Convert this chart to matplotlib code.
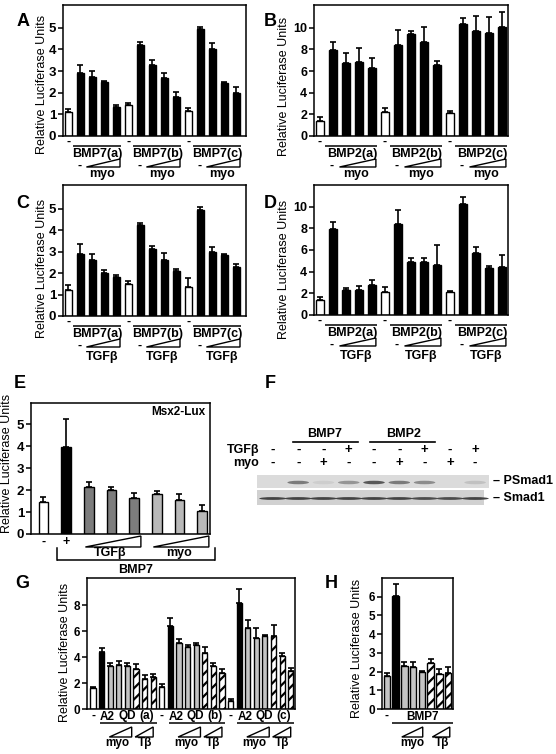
import matplotlib
matplotlib.use("Agg")
import matplotlib.pyplot as plt
from matplotlib.patches import Polygon, Rectangle, Ellipse

plt.rcParams['font.family'] = ['Liberation Sans', 'DejaVu Sans']
plt.rcParams['font.weight'] = 'bold'
plt.rcParams['hatch.linewidth'] = 1.6

# ---- data ----
a_vals = [1.12, 2.92, 2.71, 2.48, 1.35, 1.42, 4.22, 3.28, 2.69, 1.82, 1.15, 4.92, 4.0, 2.46, 2.0]
a_errs = [0.12, 0.35, 0.3, 0.07, 0.1, 0.12, 0.1, 0.25, 0.2, 0.22, 0.15, 0.1, 0.28, 0.04, 0.26]
b_vals = [1.42, 7.94, 6.7, 6.86, 6.3, 2.25, 8.4, 9.38, 8.7, 6.55, 2.15, 10.34, 9.7, 9.48, 10.03]
b_errs = [0.3, 0.77, 1.0, 1.23, 0.95, 0.37, 1.38, 0.3, 1.38, 0.37, 0.15, 0.58, 1.4, 1.47, 1.45]
c_vals = [1.21, 2.91, 2.63, 2.01, 1.8, 1.47, 4.26, 3.14, 2.63, 2.09, 1.36, 4.92, 2.99, 2.83, 2.26]
c_errs = [0.23, 0.43, 0.25, 0.12, 0.1, 0.17, 0.09, 0.12, 0.31, 0.09, 0.39, 0.15, 0.2, 0.08, 0.15]
d_vals = [1.42, 7.9, 2.35, 2.28, 2.81, 2.1, 8.36, 4.88, 4.88, 4.66, 2.1, 10.28, 5.74, 4.35, 4.41]
d_errs = [0.25, 0.7, 0.15, 0.37, 0.4, 0.46, 1.33, 0.34, 0.34, 1.76, 0.09, 0.62, 0.56, 0.15, 1.17]
group_names_bmp7 = ['BMP7(a)', 'BMP7(b)', 'BMP7(c)']
group_names_bmp2 = ['BMP2(a)', 'BMP2(b)', 'BMP2(c)']

e_vals = [1.44, 3.95, 2.13, 1.99, 1.63, 1.82, 1.55, 1.05]
e_errs = [0.23, 1.28, 0.26, 0.14, 0.26, 0.14, 0.27, 0.27]

blot_lanes = range(9)
blot_tgfb = ['-', '-', '-', '+', '-', '-', '+', '-', '+']
blot_myo = ['-', '-', '+', '-', '-', '+', '-', '+', '-']
psmad1_int = [0.0, 0.55, 0.08, 0.4, 0.75, 0.55, 0.45, 0.0, 0.15]
smad1_int = [0.8, 0.8, 0.8, 0.8, 0.8, 0.8, 0.75, 0.75, 0.8]

g_vals = [1.61, 4.35, 3.32, 3.4, 3.32, 3.07, 2.3, 2.43,
          1.69, 6.4, 5.05, 4.8, 4.9, 4.3, 3.32, 2.75,
          0.59, 8.13, 6.2, 5.44, 5.62, 5.62, 4.08, 2.9]
g_errs = [0.05, 0.36, 0.2, 0.3, 0.2, 0.38, 0.33, 0.26,
          0.26, 0.6, 0.33, 0.13, 0.18, 0.45, 0.2, 0.36,
          0.18, 1.08, 0.64, 0.82, 0.05, 0.87, 0.26, 0.27]
g_groups = ['(a)', '(b)', '(c)']

h_vals = [1.74, 6.04, 2.31, 2.27, 2.0, 2.45, 1.88, 1.92]
h_errs = [0.21, 0.62, 0.2, 0.23, 0.05, 0.21, 0.27, 0.35]

W, H = 556, 754
fig = plt.figure(figsize=(W / 100, H / 100), dpi=100)


def panel(l, t, r, b):
    return fig.add_axes([l / W, 1 - b / H, (r - l) / W, (b - t) / H])


def bars(ax, vals, errs, colors, width, hatched=(), cap=2.5):
    x = list(range(len(vals)))
    rects = ax.bar(x, vals, width=width, color=colors, edgecolor='black', linewidth=1, zorder=2)
    for i in hatched:
        rects[i].set_hatch('///')
    ax.errorbar(x, vals, yerr=[[0] * len(vals), errs], fmt='none', ecolor='black',
                elinewidth=1.2, capsize=cap, capthick=1.2, zorder=1)


def style(ax, xlim, ylim, yticks, fs=9.5, lab_x=-0.1, lab_y=0.5, lab_fs=9):
    ax.set_xlim(xlim)
    ax.set_ylim(ylim)
    ax.set_yticks(yticks)
    ax.set_xticks([])
    ax.tick_params(axis='y', length=3.5, width=1.1, pad=1.5, labelsize=fs)
    for s in ax.spines.values():
        s.set_linewidth(1.1)
    ax.set_ylabel('Relative Luciferase Units', fontsize=lab_fs)
    ax.yaxis.set_label_coords(lab_x, lab_y)
    ax.yaxis.label.set_verticalalignment('center')


def txt(ax, x, dy, s, fs=9, ha='center', va='center'):
    ax.text(x, -dy / ax.bbox.height, s, transform=ax.get_xaxis_transform(),
            ha=ha, va=va, fontsize=fs, clip_on=False)


def hline(ax, x0, x1, dy, lw=1.1):
    y = -dy / ax.bbox.height
    ax.plot([x0, x1], [y, y], transform=ax.get_xaxis_transform(), color='black',
            lw=lw, clip_on=False, solid_capstyle='butt')


def vline(ax, x, dy0, dy1, lw=1.1):
    h = ax.bbox.height
    ax.plot([x, x], [-dy0 / h, -dy1 / h], transform=ax.get_xaxis_transform(), color='black',
            lw=lw, clip_on=False)


def wedge(ax, x0, x1, dtop, dbot):
    h = ax.bbox.height
    p = Polygon([(x0, -dbot / h), (x1, -dbot / h), (x1, -dtop / h)], closed=True,
                fill=False, edgecolor='black', lw=1, transform=ax.get_xaxis_transform(),
                clip_on=False)
    ax.add_patch(p)


def titration_labels(ax, names, treat, treat_base):
    for k, g in enumerate([0, 5, 10]):
        txt(ax, g, 6, '-')
        hline(ax, g + 0.4, g + 4.35, 10)
        txt(ax, g + 2.45, 21, names[k], va='baseline')
        txt(ax, g + 0.9, 30, '-')
        wedge(ax, g + 1.5, g + 4.3, 23, 31)
        txt(ax, g + 2.8, treat_base, treat, va='baseline')


abcd_colors = ['white' if i % 5 == 0 else 'black' for i in range(15)]

# A
ax = panel(63, 5, 246, 136)
bars(ax, a_vals, a_errs, abcd_colors, 0.6)
style(ax, (-0.45, 14.8), (0, 6.05), range(6), lab_x=(42 - 63) / 183, lab_y=0.39)
titration_labels(ax, group_names_bmp7, 'myo', 41)

# B
ax = panel(314, 5, 508, 136)
bars(ax, b_vals, b_errs, abcd_colors, 0.6)
style(ax, (-0.46, 14.46), (0, 12.1), range(0, 11, 2), fs=9, lab_x=(284 - 314) / 194, lab_y=0.38)
titration_labels(ax, group_names_bmp2, 'myo', 41)

# C
ax = panel(63, 185, 246, 316)
bars(ax, c_vals, c_errs, abcd_colors, 0.6)
style(ax, (-0.45, 14.8), (0, 6.1), range(6), lab_x=(42 - 63) / 183, lab_y=0.36)
titration_labels(ax, group_names_bmp7, 'TGFβ', 44)

# D
ax = panel(314, 185, 508, 315)
bars(ax, d_vals, d_errs, abcd_colors, 0.6)
style(ax, (-0.46, 14.46), (0, 12.0), range(0, 11, 2), fs=9, lab_x=(284 - 314) / 194, lab_y=0.35)
titration_labels(ax, group_names_bmp2, 'TGFβ', 44)

# E
ax = panel(31, 403, 210, 534)
e_colors = ['white', 'black', '#7d7d7d', '#7d7d7d', '#7d7d7d', '#b9b9b9', '#b9b9b9', '#b9b9b9']
bars(ax, e_vals, e_errs, e_colors, 0.42)
style(ax, (-0.55, 7.35), (0, 5.97), range(6), lab_x=(7 - 31) / 179, lab_y=0.54)
ax.text(0.975, 0.93, 'Msx2-Lux', transform=ax.transAxes, ha='right', va='center', fontsize=8.5)
txt(ax, 0, 8, '-')
txt(ax, 1, 8, '+')
wedge(ax, 1.85, 4.3, 2, 13)
wedge(ax, 4.85, 7.3, 2, 13)
txt(ax, 2.95, 22, 'TGFβ', va='baseline')
txt(ax, 6.0, 22, 'myo', va='baseline')
hline(ax, 0.6, 7.55, 26)
vline(ax, 0.6, 14, 26)
vline(ax, 7.55, 14, 26)
txt(ax, 4.05, 39, 'BMP7', va='baseline')

# F  (western blot, pixel rows inside the strip)
ax = panel(257, 475, 489, 505)
ax.set_xlim(-0.63, 8.55)
ax.set_ylim(30, 0)
ax.axis('off')
bg1, bg2 = 0.86, 0.82
ax.add_patch(Rectangle((-0.63, 0), 9.18, 12.5, color=str(bg1), lw=0))
ax.add_patch(Rectangle((-0.63, 15), 9.0, 15, color=str(bg2), lw=0))
for i in blot_lanes:
    if psmad1_int[i] > 0:
        ax.add_patch(Ellipse((i, 7.5), 0.85, 3.5, color=str(bg1 * (1 - 0.8 * psmad1_int[i])), lw=0))
    ax.add_patch(Ellipse((i, 23.5), 1.08, 2.8, color=str(bg2 * (1 - 0.85 * smad1_int[i])), lw=0))
for i in blot_lanes:
    ax.text(i, -25, blot_tgfb[i], ha='center', va='center', fontsize=9.5, clip_on=False)
    ax.text(i, -12, blot_myo[i], ha='center', va='center', fontsize=9.5, clip_on=False)
ax.text(-0.55, -25, 'TGFβ', ha='right', va='center', fontsize=9, clip_on=False)
ax.text(-0.55, -12, 'myo', ha='right', va='center', fontsize=9, clip_on=False)
ax.plot([0.8, 3.35], [-33, -33], color='black', lw=1.2, clip_on=False)
ax.plot([3.85, 6.4], [-33, -33], color='black', lw=1.2, clip_on=False)
ax.text(2.05, -41, 'BMP7', ha='center', va='center', fontsize=9, clip_on=False)
ax.text(5.15, -41, 'BMP2', ha='center', va='center', fontsize=9, clip_on=False)
ax.text(8.7, 6, '– PSmad1', ha='left', va='center', fontsize=9, clip_on=False)
ax.text(8.7, 23, '– Smad1', ha='left', va='center', fontsize=9, clip_on=False)

# G
ax = panel(87, 578, 295, 709)
g_colors = (['white', 'black'] + ['#c4c4c4'] * 3 + ['white'] * 3) * 3
g_hatch = [g + k for g in (0, 8, 16) for k in (5, 6, 7)]
bars(ax, g_vals, g_errs, g_colors, 0.6, hatched=g_hatch, cap=2)
style(ax, (-0.7, 23.5), (0, 10.08), range(0, 9, 2), fs=8.5, lab_x=(65 - 87) / 208, lab_y=0.435)
for k, g in enumerate([0, 8, 16]):
    txt(ax, g, 7, '-', fs=8.5)
    txt(ax, g + 1.7, 10.5, 'A2', fs=8.5, va='baseline')
    txt(ax, g + 3.95, 10.5, 'QD', fs=8.5, va='baseline')
    txt(ax, g + 6.2, 10.5, g_groups[k], fs=8.5, va='baseline')
    hline(ax, g + 0.8, g + 7.4, 14)
    wedge(ax, g + 1.9, g + 4.5, 18, 28)
    wedge(ax, g + 4.9, g + 7.0, 18, 28)
    txt(ax, g + 2.8, 37, 'myo', fs=8.5, va='baseline')
    txt(ax, g + 6.0, 37, 'Tβ', fs=8.5, va='baseline')

# H
ax = panel(382, 578, 453, 709)
h_colors = ['#c4c4c4', 'black'] + ['#c4c4c4'] * 3 + ['white'] * 3
bars(ax, h_vals, h_errs, h_colors, 0.75, hatched=[5, 6, 7], cap=2)
style(ax, (-0.57, 7.57), (0, 7.0), range(7), fs=8.5, lab_x=(357 - 382) / 71, lab_y=0.46)
txt(ax, 0, 7, '-', fs=8.5)
txt(ax, 4.1, 10.5, 'BMP7', fs=8.5, va='baseline')
hline(ax, 0.57, 7.6, 14)
wedge(ax, 1.7, 4.1, 18, 28)
wedge(ax, 5.2, 7.2, 18, 28)
txt(ax, 2.9, 37, 'myo', fs=8.5, va='baseline')
txt(ax, 6.3, 37, 'Tβ', fs=8.5, va='baseline')

# panel letters
for letter, (px, py) in zip('ABCDEFGH', [(23, 21), (270, 22), (23, 203), (270, 203),
                                         (20, 383), (270, 383), (22, 583), (331, 583)]):
    fig.text(px / W, 1 - py / H, letter, ha='center', va='center', fontsize=13)

fig.savefig('out.png', dpi=100)
